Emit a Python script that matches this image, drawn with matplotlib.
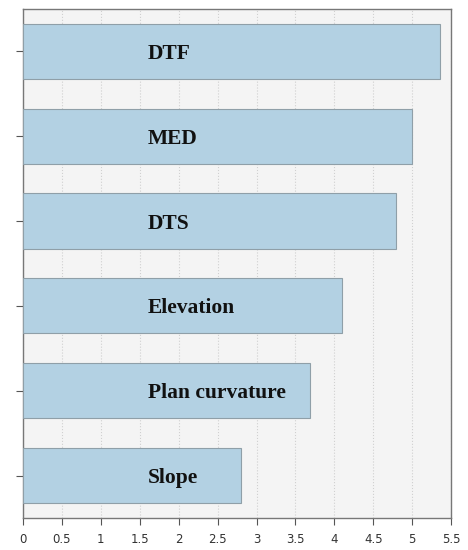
import matplotlib
matplotlib.use('Agg')
import matplotlib.pyplot as plt
import numpy as np

# 数据
factors = ['Slope', 'Plan curvature', 'Elevation', 'DTS', 'MED', 'DTF']
values = [2.80, 3.69, 4.10, 4.79, 5.00, 5.36]
xticks = [0, 0.5, 1, 1.5, 2, 2.5, 3, 3.5, 4, 4.5, 5, 5.5]
xticklabels = ['0', '0.5', '1', '1.5', '2', '2.5', '3', '3.5', '4', '4.5', '5', '5.5']

fig = plt.figure(figsize=(4.68, 5.5), dpi=100)
ax = fig.add_axes([0.049, 0.058, 0.915, 0.926])
ax.set_facecolor('#f4f4f4')

y = np.arange(len(factors))
ax.barh(y, values, height=0.65, color='#b3d1e3', edgecolor='#8f9fa8', linewidth=0.8, zorder=3)

# 条形内标签
for yi, name in zip(y, factors):
    ax.text(1.6, yi - 0.03, name, ha='left', va='center', fontsize=15.5, fontweight='bold',
            family='Liberation Serif', color='#111111', zorder=4)

ax.set_xlim(0, 5.5)
ax.set_ylim(-0.5, len(factors) - 0.5)
ax.set_xticks(xticks)
ax.set_xticklabels(xticklabels, fontsize=8.5, color='#333333')
ax.set_yticks(y)
ax.set_yticklabels([])
ax.tick_params(axis='both', direction='out', length=5, color='#555555', width=0.8)
ax.tick_params(axis='x', pad=6)
ax.grid(True, axis='x', linestyle=':', color='#d0d0d0', linewidth=0.8, zorder=0)

for s in ax.spines.values():
    s.set_color('#777777')
    s.set_linewidth(1.0)

plt.savefig('out.png', dpi=100)
plt.close()
